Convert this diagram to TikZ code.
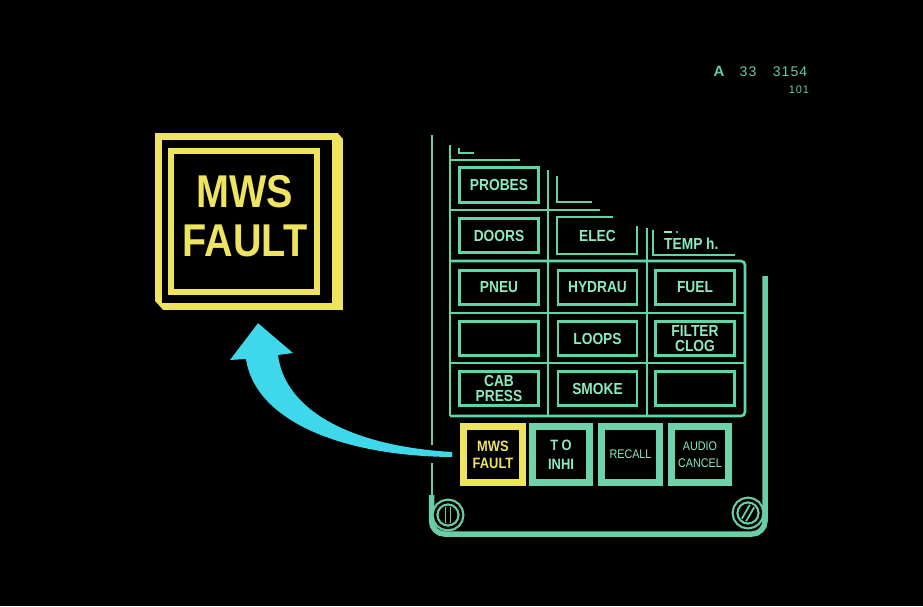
\documentclass[tikz,border=0pt]{standalone}
\usepackage{fontspec}
\setmainfont{Liberation Sans}[FakeStretch=0.86]
\newfontfamily\codefont{Liberation Sans}[LetterSpace=8]
\definecolor{pgreen}{RGB}{95,215,165}
\definecolor{ptext}{RGB}{140,235,190}
\definecolor{pframe}{RGB}{105,205,165}
\definecolor{bgreen}{RGB}{110,210,170}
\definecolor{yel}{RGB}{238,228,95}
\definecolor{arrowc}{RGB}{62,216,234}
\definecolor{codec}{RGB}{95,205,170}
\newcommand\pcellfont{\fontsize{16}{15.5}\selectfont\bfseries}
\tikzset{
  gridl/.style={draw=pgreen, line width=2.6pt},
  cellline/.style={draw=pgreen, line width=2.6pt},
  cell/.style={draw=pgreen, line width=2.6pt, minimum width=79pt, minimum height=34.5pt,
    inner sep=0pt, text=ptext, font=\pcellfont, align=center},
  celltext/.style={inner sep=0pt, text=ptext, font=\pcellfont, align=center},
  bbtn/.style={draw=bgreen, line width=5pt, minimum width=59pt, minimum height=58pt,
    inner sep=0pt, text=ptext, align=center},
  thinl/.style={draw=pframe, line width=2.2pt},
  framel/.style={draw=pframe, line width=5.5pt},
  screw/.style={circle, draw=pframe, line width=2.2pt, double=black, double distance=2.5pt,
    minimum size=26pt, fill=black, inner sep=0pt},
  slot/.style={draw=pframe, line width=1.8pt},
  codetext/.style={inner sep=0pt, text=codec},
}
\begin{document}
\begin{tikzpicture}[x=1pt,y=-1pt]
\useasboundingbox (0,0) rectangle (923,606);
\fill[black] (0,0) rectangle (923,606);

% reference code
\node[codetext, font={\codefont\fontsize{15}{15}\selectfont\bfseries}] (ca) at (719,71) {A};
\node[codetext, font={\codefont\fontsize{14}{14}\selectfont}] (c33) at (748,72) {33};
\node[codetext, font={\codefont\fontsize{14}{14}\selectfont}] (c3154) at (790,72) {3154};
\node[codetext, font={\codefont\fontsize{11}{11}\selectfont}] (c101) at (799,90) {101};

% big MWS FAULT
\node[fill=yel, minimum width=188pt, minimum height=177pt, inner sep=0pt] (big) at (249,221.5) {};
\path (big.west |- big.north) coordinate (bnw);
\path (big.east |- big.south) coordinate (bse);
\fill[black] ([xshift=7pt,yshift=-7.5pt]bnw) rectangle ([xshift=-11pt,yshift=7.5pt]bse);
\draw[yel, line width=6pt] ([xshift=16.5pt,yshift=-18pt]bnw) rectangle ([xshift=-26pt,yshift=18.5pt]bse);
\fill[black] (337,132) -- (344,132) -- (344,140) -- cycle;
\fill[black] (154,300) -- (154,311) -- (164,311) -- cycle;
\node[inner sep=0pt, text=yel, align=center, font={\fontsize{46}{49}\selectfont\bfseries}] (bigt) at (245,216) {MWS\\FAULT};

% panel grid lines
\draw[gridl] (459,148) -- (459,153) -- (474,153);
\draw[gridl] (450,145) -- (450,416);
\draw[gridl] (450,160) -- (520,160);
\draw[gridl] (450,210) -- (600,210);
\draw[gridl, rounded corners=4pt] (450,261) -- (745,261) -- (745,416) -- (450,416);
\draw[gridl] (450,313) -- (745,313);
\draw[gridl] (450,363) -- (745,363);
\draw[gridl] (548,170) -- (548,416);
\draw[gridl] (647,228) -- (647,416);

% row 1
\node[cell] (probes) at (499,185) {PROBES};
\draw[cellline] (557,176) -- (557,202) -- (592,202);
% row 2
\node[cell] (doors) at (499,235.5) {DOORS};
\node[celltext] (elec) at (597.5,235.5) {ELEC};
\draw[cellline] (613,217) -- (557,217) -- (557,254) -- (637,254) -- (637,226);
\node[celltext, anchor=west] (temp) at (664,244) {TEMP h.};
\draw[cellline] (653,230) -- (653,255) -- (735,255);
\draw[ptext, line width=2pt] (664,231.5) -- (672,231.5);
\fill[ptext] (677,232) circle (1.2);
% row 3
\node[cell] (pneu) at (499,287.5) {PNEU};
\node[cell] (hydrau) at (597.5,287.5) {HYDRAU};
\node[cell] (fuel) at (695,287.5) {FUEL};
% row 4
\node[cell] (blanka) at (499,338.5) {};
\node[cell] (loops) at (597.5,338.5) {LOOPS};
\node[cell] (filter) at (695,338.5) {FILTER\\CLOG};
% row 5
\node[cell] (cab) at (499,388.5) {CAB\\PRESS};
\node[cell] (smoke) at (597.5,388.5) {SMOKE};
\node[cell] (blankb) at (695,388.5) {};

% bottom buttons
\node[bbtn, draw=yel, text=yel, minimum width=61pt, font={\fontsize{15}{17}\selectfont\bfseries}] (mws) at (493,454.5) {MWS\\FAULT};
\node[bbtn, font={\fontsize{15}{19}\selectfont\bfseries}] (toinhi) at (561,454.5) {T O\\INHI};
\node[bbtn, minimum width=60pt, font={\fontsize{12.5}{15}\selectfont}] (recall) at (630.5,454.5) {RECALL};
\node[bbtn, font={\fontsize{12.5}{17}\selectfont}] (audio) at (700,454.5) {AUDIO\\CANCEL};
\foreach \b/\c in {mws/yel, toinhi/bgreen, recall/bgreen, audio/bgreen}
  \draw[draw=\c, line width=2.2pt] ([xshift=6pt,yshift=-6pt]\b.north west) rectangle ([xshift=-6pt,yshift=6pt]\b.south east);

% frame
\draw[thinl] (432,135) -- (432,445);
\draw[thinl] (432,463) -- (432,502);
\draw[framel, rounded corners=13pt] (431.5,495) -- (431.5,534) -- (765,534) -- (765,276);

% screws
\node[screw] (scl) at (448,515) {};
\node[screw] (scr) at (748,513) {};
\draw[slot] ([xshift=-2.5pt,yshift=8pt]scl.center) -- ([xshift=-2.5pt,yshift=-8pt]scl.center);
\draw[slot] ([xshift=2.5pt,yshift=8pt]scl.center) -- ([xshift=2.5pt,yshift=-8pt]scl.center);
\draw[slot] ([xshift=1.83pt,yshift=8.18pt]scr.center) -- ([xshift=-6.17pt,yshift=-5.68pt]scr.center);
\draw[slot] ([xshift=6.17pt,yshift=5.68pt]scr.center) -- ([xshift=-1.83pt,yshift=-8.18pt]scr.center);

% arrow from panel button to enlarged button
\coordinate (atail) at ([xshift=-8pt]mws.west);
\coordinate (atip) at ([xshift=9pt,yshift=-13pt]big.south);
\fill[arrowc] ([yshift=-2.5pt]atail) .. controls (340,456) and (255,420) .. (246,359)
  -- (230,360) -- (atip) -- (293,353) -- (278,355)
  .. controls (285,410) and (350,446) .. ([yshift=2.5pt]atail) -- cycle;
\end{tikzpicture}
\end{document}
